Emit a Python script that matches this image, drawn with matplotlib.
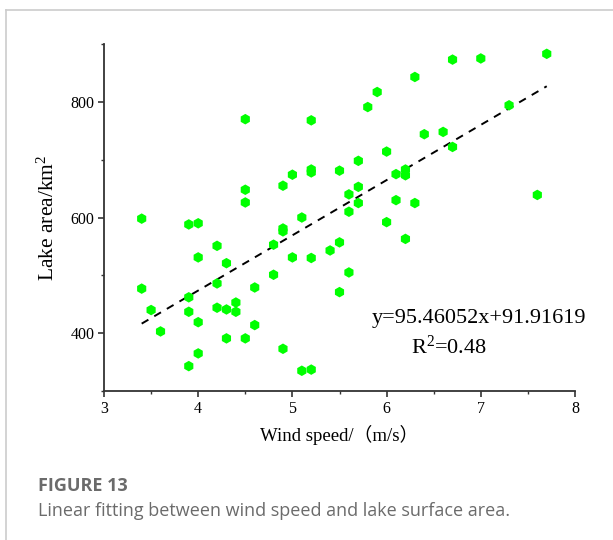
import matplotlib.pyplot as plt
from matplotlib.lines import Line2D

plt.rcParams['mathtext.fontset'] = 'custom'
plt.rcParams['mathtext.rm'] = 'Liberation Serif'
plt.rcParams['mathtext.it'] = 'Liberation Serif:italic'

# wind speed (m/s) and lake area (km2)
wind = [3.4, 3.4, 3.5, 3.6, 3.9, 3.9, 3.9, 3.9, 4.0, 4.0, 4.0, 4.0,
        4.2, 4.2, 4.2, 4.3, 4.3, 4.3, 4.4, 4.4, 4.5, 4.5, 4.5, 4.5,
        4.6, 4.6, 4.8, 4.8, 4.9, 4.9, 4.9, 4.9, 5.0, 5.0, 5.1, 5.1,
        5.2, 5.2, 5.2, 5.2, 5.2, 5.4, 5.5, 5.5, 5.5, 5.6, 5.6, 5.6,
        5.7, 5.7, 5.7, 5.8, 5.9, 6.0, 6.0, 6.1, 6.1, 6.2, 6.2, 6.2,
        6.3, 6.3, 6.4, 6.6, 6.7, 6.7, 7.0, 7.3, 7.6, 7.7]
area = [598, 477, 440, 403, 588, 462, 437, 343, 590, 531, 419, 365,
        551, 486, 444, 521, 441, 391, 453, 437, 770, 648, 626, 391,
        479, 414, 553, 501, 655, 581, 576, 373, 674, 531, 600, 335,
        768, 683, 678, 530, 337, 543, 681, 557, 471, 640, 610, 505,
        698, 653, 625, 791, 817, 714, 592, 675, 630, 683, 673, 563,
        843, 625, 744, 748, 873, 722, 875, 794, 639, 883]

slope = 95.46052
intercept = 91.91619
fit_x = [min(wind), max(wind)]
fit_y = [slope * v + intercept for v in fit_x]

serif = ['Liberation Serif', 'Noto Sans CJK SC']

fig = plt.figure(figsize=(6.13, 5.40), dpi=100)
ax = fig.add_axes([104 / 613, 1 - 391 / 540, 471 / 613, 347 / 540])

ax.scatter(wind, area, marker='h', s=58, color='#00ff00', edgecolors='none', zorder=3)
ax.plot(fit_x, fit_y, color='black', lw=1.4, ls=(0, (4, 3.5)), zorder=2)

ax.set_xlim(3, 8)
ax.set_ylim(300, 900)
ax.set_xticks([3, 4, 5, 6, 7, 8])
ax.set_xticks([3.5, 4.5, 5.5, 6.5, 7.5], minor=True)
ax.set_yticks([400, 600, 800])
ax.set_yticks([300, 500, 700, 900], minor=True)
for s in ['top', 'right']:
    ax.spines[s].set_visible(False)
for s in ['left', 'bottom']:
    ax.spines[s].set_color('#333333')
    ax.spines[s].set_linewidth(1.3)
ax.tick_params(which='major', direction='out', length=4, width=1.2, color='#333333',
               labelsize=11.5, pad=3)
ax.tick_params(which='minor', direction='out', length=2.5, width=1.0, color='#333333')
for lab in ax.get_xticklabels() + ax.get_yticklabels():
    lab.set_family(serif)

ax.set_xlabel('Wind speed/（m/s）', family=serif, fontsize=13.5, labelpad=6)
ax.set_ylabel('Lake area/km$^2$', family=serif, fontsize=15.5, labelpad=8)

fig.text(372 / 613, 1 - 318 / 540, 'y=95.46052x+91.91619', family=serif,
         fontsize=16, va='center', ha='left')
fig.text(411 / 613, 1 - 347 / 540, 'R$^2$=0.48', family=serif,
         fontsize=16, va='center', ha='left')

# caption
fig.text(38 / 613, 1 - 486 / 540, 'FIGURE 13', family='Open Sans', fontweight='bold',
         fontsize=13, color='#6b6b6b', va='center', ha='left')
fig.text(38 / 613, 1 - 511 / 540, 'Linear fitting between wind speed and lake surface area.',
         family='Open Sans', fontsize=13, color='#6b6b6b', va='center', ha='left')

# panel border (top and left)
fig.add_artist(Line2D([6 / 613, 1], [1 - 10 / 540, 1 - 10 / 540], color='#cccccc', lw=1.2))
fig.add_artist(Line2D([6 / 613, 6 / 613], [0, 1 - 10 / 540], color='#cccccc', lw=1.2))

fig.savefig('out.png', dpi=100)
